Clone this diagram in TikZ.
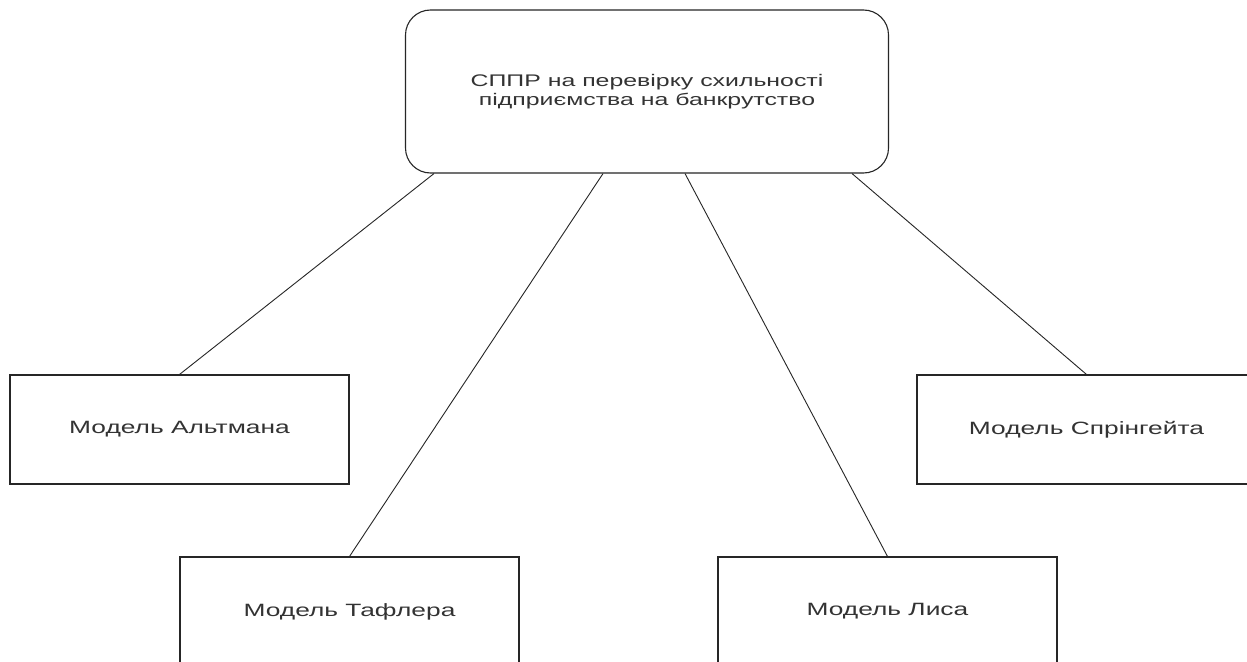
\documentclass[tikz,border=0pt]{standalone}
\usepackage{fontspec}
\setmainfont{Liberation Sans}[FakeStretch=1.48]
\definecolor{linec}{HTML}{262626}
\definecolor{textc}{HTML}{333333}
\begin{document}
\begin{tikzpicture}[x=1pt,y=-1pt,
  every node/.style={inner sep=0pt, text=textc},
  modelbox/.style={draw=linec, line width=1.1pt, minimum width=339pt, minimum height=109pt, font=\fontsize{17.8}{21}\selectfont},
  rootbox/.style={draw=linec, line width=1.1pt, rounded corners=25pt, minimum width=483pt, minimum height=163pt, align=center, font=\fontsize{16.8}{19}\selectfont},
  link/.style={draw=linec, line width=0.9pt}]
\useasboundingbox (0,0) rectangle (1247,661);
\fill[white] (0,0) rectangle (1247,661);
\clip (0,0) rectangle (1247,661);
\node[rootbox] (root) at (647,91.5) {СППР на перевірку схильності\\підприємства на банкрутство};
\node[modelbox] (alt) at (179.5,429.5) {Модель Альтмана};
\node[modelbox] (taf) at (349.5,611.5) {Модель Тафлера};
\node[modelbox] (lis) at (887.5,611.5) {Модель Лиса};
\node[modelbox] (spr) at (1086.5,429.5) {Модель Спрінгейта};
\draw[link] ([xshift=-213pt]root.south) -- (alt.north);
\draw[link] ([xshift=-44pt]root.south) -- (taf.north);
\draw[link] ([xshift=38pt]root.south) -- (lis.north);
\draw[link] ([xshift=205pt]root.south) -- (spr.north);
\end{tikzpicture}
\end{document}
